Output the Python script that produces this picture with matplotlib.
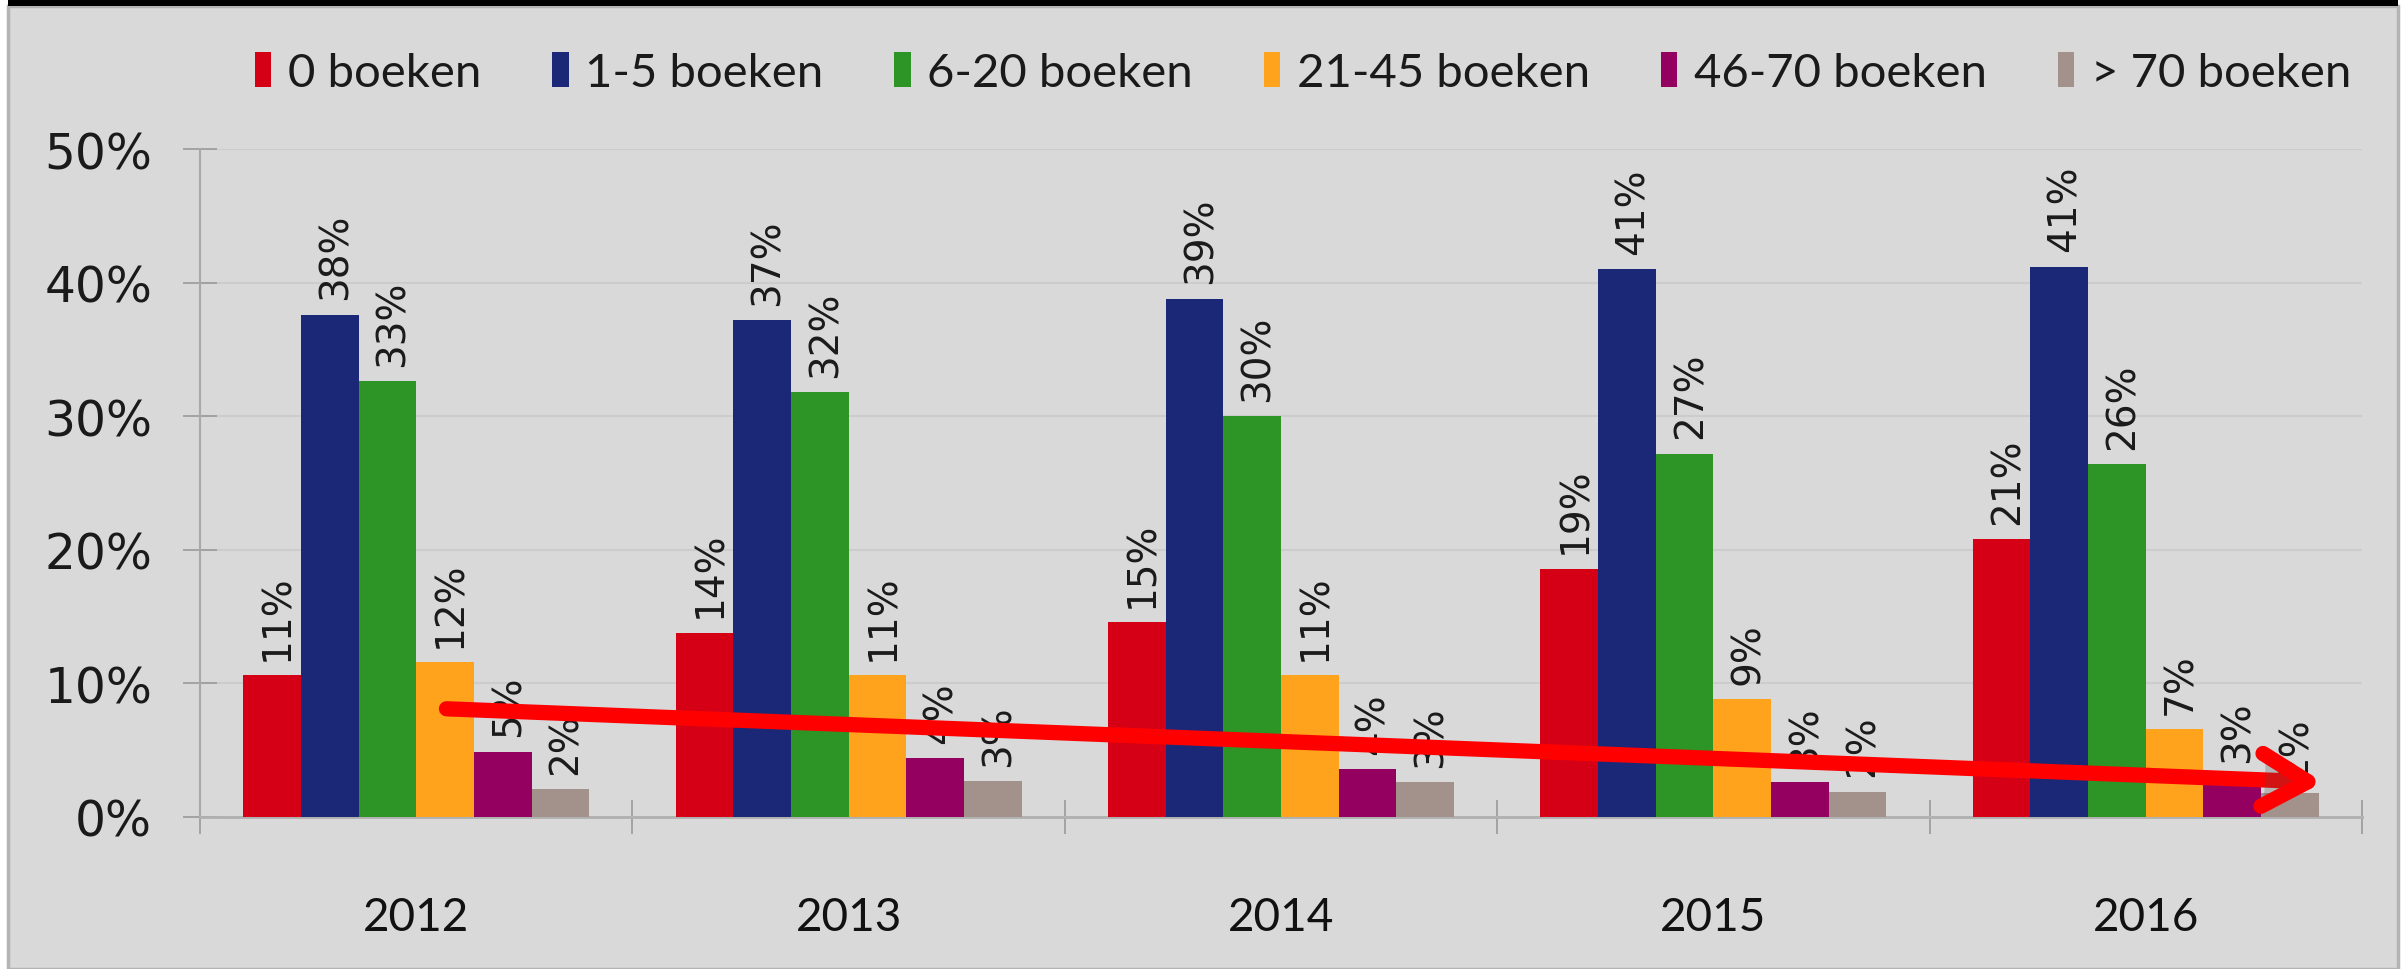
import matplotlib
matplotlib.use("Agg")
import matplotlib.pyplot as plt
from matplotlib.patches import Rectangle, Patch
import matplotlib.patheffects as pe
import numpy as np

years = ["2012", "2013", "2014", "2015", "2016"]
categories = ["0 boeken", "1-5 boeken", "6-20 boeken", "21-45 boeken", "46-70 boeken", "> 70 boeken"]
colors = ["#d50016", "#1b2878", "#2d9426", "#ffa31c", "#930060", "#a3928c"]

v_0 = [10.6, 13.8, 14.6, 18.6, 20.8]
v_1_5 = [37.6, 37.2, 38.8, 41.0, 41.2]
v_6_20 = [32.6, 31.8, 30.0, 27.2, 26.4]
v_21_45 = [11.6, 10.6, 10.6, 8.8, 6.6]
v_46_70 = [4.9, 4.4, 3.6, 2.6, 3.0]
v_70p = [2.1, 2.7, 2.6, 1.9, 1.8]
series = [v_0, v_1_5, v_6_20, v_21_45, v_46_70, v_70p]

y_ticks = [0, 10, 20, 30, 40, 50]
y_ticklabels = ["0%", "10%", "20%", "30%", "40%", "50%"]

# trend arrow (annotation) in data coordinates: (group position, percent)
arrow_start = (0.07, 8.1)
arrow_end = (4.41, 2.6)

W, H = 2408, 970
fig = plt.figure(figsize=(W / 100, H / 100), dpi=100)
fig.patch.set_facecolor("white")

# grey panel with black bar on top
panel = Rectangle((8 / W, 0), (2398 - 8) / W, (H - 7) / H, transform=fig.transFigure,
                  facecolor="#d9d9d9", edgecolor="#b4b4b4", linewidth=2.5, zorder=-5)
topbar = Rectangle((8 / W, (H - 7) / H), (2398 - 8) / W, 7 / H, transform=fig.transFigure,
                   facecolor="black", edgecolor="none", zorder=-5)
fig.add_artist(panel)
fig.add_artist(topbar)

ax = fig.add_axes([200 / W, 152 / H, (2362 - 200) / W, (818 - 150) / H])
ax.set_zorder(2)
ax.set_facecolor("none")

n = len(categories)
bw = 0.8 / n
x = np.arange(len(years))
for i, (cat, vals, col) in enumerate(zip(categories, series, colors)):
    xs = x - 0.4 + bw * (i + 0.5)
    ax.bar(xs, vals, width=bw, color=col, label=cat, zorder=3)
    for xi, v in zip(xs, vals):
        ax.annotate(f"{v:.0f}%", (xi, v), xytext=(4, 11), textcoords="offset points",
                    rotation=90, ha="center", va="bottom", fontsize=28,
                    family="DejaVu Sans", color="#1a1a1a", zorder=4)

ax.set_xlim(-0.5, len(years) - 0.5)
ax.set_ylim(0, 50)
ax.set_yticks(y_ticks)
ax.set_yticklabels(y_ticklabels, fontsize=35, family="DejaVu Sans", color="#1a1a1a")
ax.set_xticks(x)
ax.set_xticklabels(years, fontsize=33, family="Lato", color="#111111")
ax.set_xticks(np.arange(-0.5, len(years)), minor=True)
ax.tick_params(axis="x", which="major", length=0, pad=57)
ax.tick_params(axis="x", which="minor", direction="inout", length=25, width=1.2, color="#9a9a9a")
ax.tick_params(axis="y", direction="inout", length=25, width=1.2, color="#9a9a9a", pad=22)

ax.grid(axis="y", color="#cccccc", linewidth=1.5, zorder=0)
for s in ["top", "right"]:
    ax.spines[s].set_visible(False)
ax.spines["left"].set_color("#a8a8a8")
ax.spines["bottom"].set_color("#b0b0b0")
ax.spines["left"].set_linewidth(1.5)
ax.spines["bottom"].set_linewidth(2)

ax.annotate("", xy=arrow_end, xytext=arrow_start,
            arrowprops=dict(arrowstyle="->,head_length=3.3,head_width=1.9", color="#ff0000",
                            lw=11, shrinkA=0, shrinkB=0, mutation_scale=10,
                            capstyle="round", joinstyle="round",
                            path_effects=[pe.SimplePatchShadow(offset=(2, -2), alpha=0.25), pe.Normal()]),
            zorder=6)

handles = [Patch(facecolor=c, edgecolor="none") for c in colors]
fig.legend(handles, categories, loc="center", bbox_to_anchor=(1303 / W, 1 - 74 / H), ncol=6,
           frameon=False, prop={"family": "Lato", "size": 34}, handlelength=0.35, handleheight=0.75,
           handletextpad=0.35, columnspacing=1.5, labelcolor="#1a1a1a")

fig.savefig("out.png", dpi=100, facecolor=fig.get_facecolor())
